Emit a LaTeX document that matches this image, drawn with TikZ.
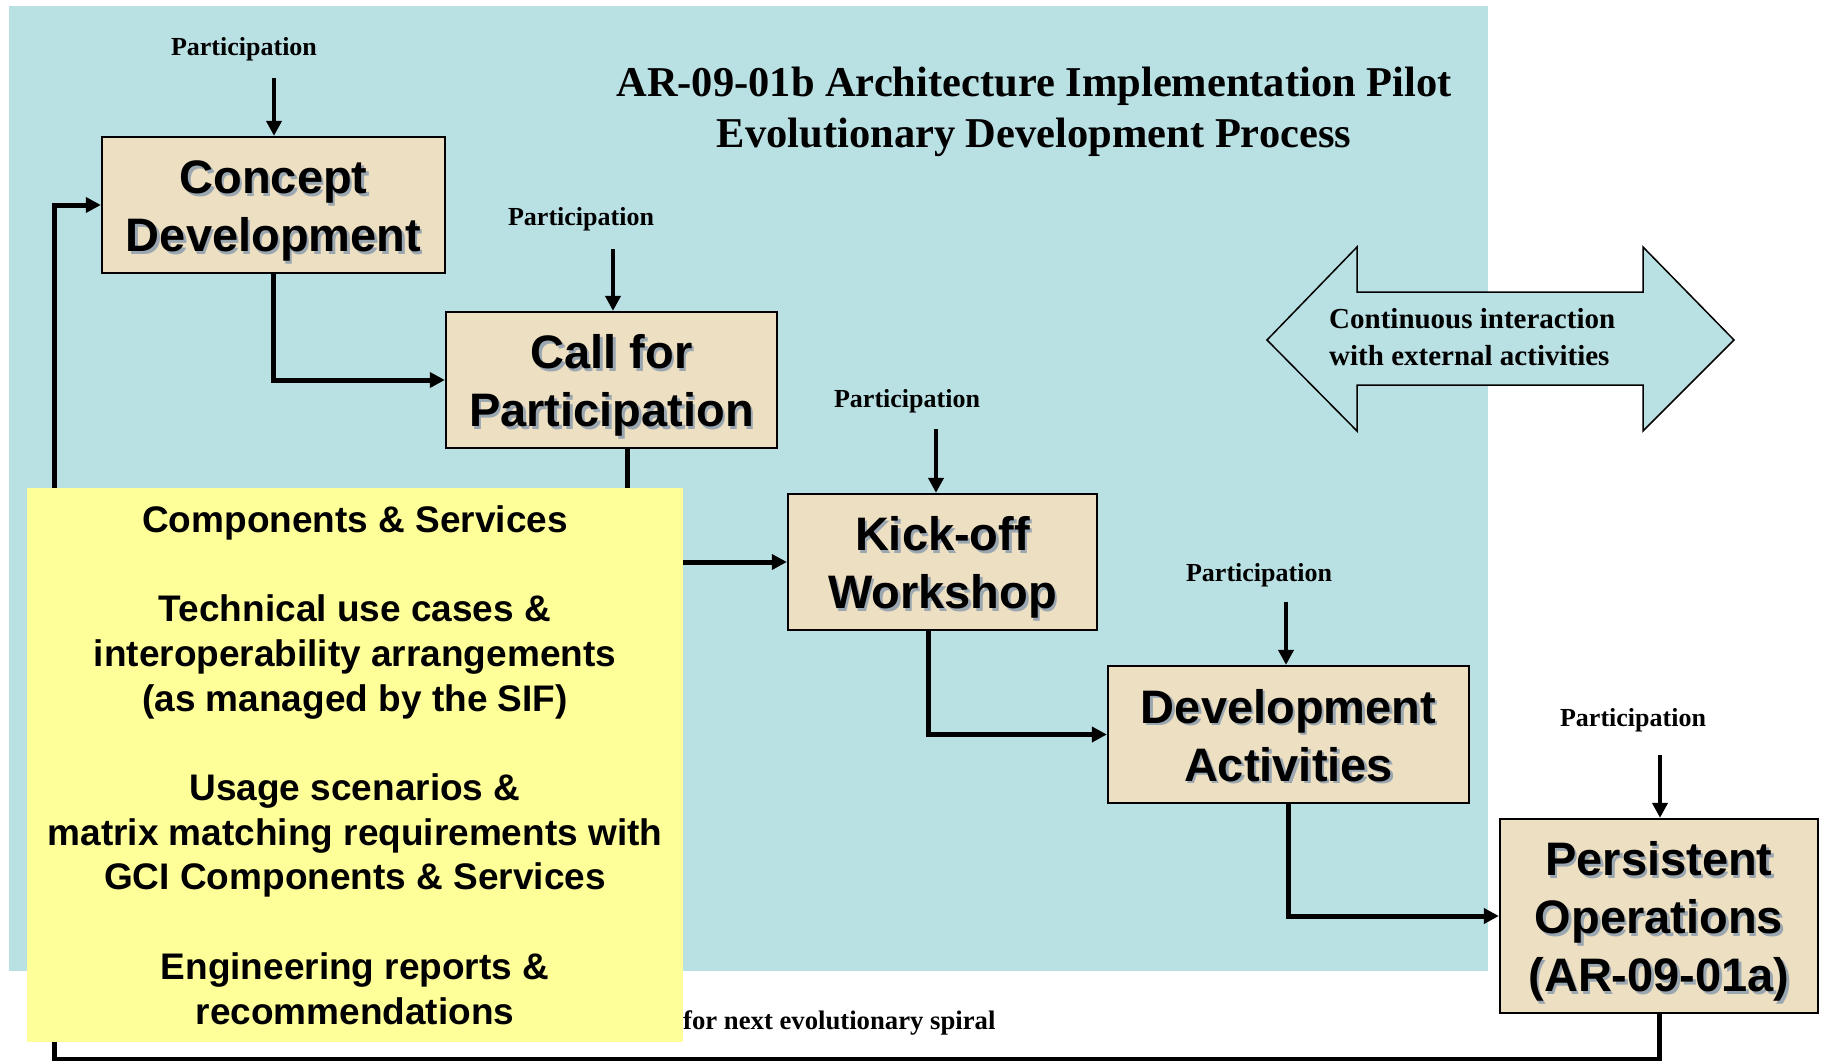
\documentclass[tikz,border=0pt]{standalone}
\usepackage{fontspec}
\setmainfont{Liberation Serif}
\newfontfamily\boxfont{Liberation Sans}
\usetikzlibrary{arrows.meta,calc}
\definecolor{bgblue}{HTML}{B9E0E3}
\definecolor{parch}{HTML}{EDDFC2}
\definecolor{pale}{HTML}{FFFF99}
\definecolor{shade}{HTML}{9AA6B0}
\newcommand\shtxt[1]{\begin{tabular}{@{}c@{}}#1\end{tabular}}
\newcommand\shadowed[1]{\raisebox{-6pt}[\height][\depth]{\makebox[0pt][l]{\raisebox{-2.5pt}[0pt][0pt]{\hspace{2.5pt}\color{shade}\shtxt{#1}}}\shtxt{#1}}}
\begin{document}
\begin{tikzpicture}[x=1pt,y=1pt,
  stepbox/.style={draw=black, line width=2.3pt, fill=parch, inner sep=0pt,
     font=\boxfont\bfseries\fontsize{47}{58}\selectfont},
  partlabel/.style={font=\bfseries\fontsize{26}{30}\selectfont, inner sep=0pt},
  conn/.style={line width=5pt, -{Triangle[length=15pt,width=15pt]}},
  partarrow/.style={line width=4.5pt, -{Triangle[length=15pt,width=15pt]}},
  notebox/.style={fill=pale, inner sep=0pt, align=center,
     font=\boxfont\bfseries\fontsize{37}{44.7}\selectfont}]
\useasboundingbox (0,0) rectangle (1830,-1060);
\fill[white] (0,0) rectangle (1830,-1060);
\fill[bgblue] (9,-6) rectangle (1488,-971);

% title
\node[font=\bfseries\fontsize{42.5}{51}\selectfont, align=center, inner sep=0pt] (title) at (1034,-112)
  {AR-09-01b Architecture Implementation Pilot\\Evolutionary Development Process};

% double arrow
\draw[fill=bgblue, line width=1.5pt, line join=miter]
  (1267,-340) -- (1357,-247) -- (1357,-292) -- (1643,-292) -- (1643,-247) -- (1734,-340)
  -- (1643,-431) -- (1643,-385) -- (1357,-385) -- (1357,-431) -- cycle;
\node[anchor=west, align=left, inner sep=0pt, font=\bfseries\fontsize{29}{37}\selectfont] (ext) at (1329,-337)
  {Continuous interaction\\with external activities};

% process boxes
\node[stepbox, minimum width=343, minimum height=136] (cd) at (273.5,-205) {\shadowed{Concept\\Development}};
\node[stepbox, minimum width=331, minimum height=136] (cfp) at (611.5,-380) {\shadowed{Call for\\Participation}};
\node[stepbox, minimum width=309, minimum height=136] (ko) at (942.5,-562) {\shadowed{Kick-off\\Workshop}};
\node[stepbox, minimum width=361, minimum height=137] (da) at (1288.5,-734.5) {\shadowed{Development\\Activities}};
\node[stepbox, minimum width=318, minimum height=194] (po) at (1659,-916) {\shadowed{Persistent\\Operations\\(AR-09-01a)}};

% participation labels and arrows
\node[partlabel] (p1) at (244,-49.5) {Participation};
\node[partlabel] (p2) at (581,-219.5) {Participation};
\node[partlabel] (p3) at (907,-401.5) {Participation};
\node[partlabel] (p4) at (1259,-575.5) {Participation};
\node[partlabel] (p5) at (1633,-720.5) {Participation};
\coordinate (p1a) at (274,-78);
\coordinate (p2a) at (613,-249);
\coordinate (p3a) at (936,-429);
\coordinate (p4a) at (1286,-602);
\coordinate (p5a) at (1660,-755);
\draw[partarrow] (p1a) -- (p1a |- cd.north);
\draw[partarrow] (p2a) -- (p2a |- cfp.north);
\draw[partarrow] (p3a) -- (p3a |- ko.north);
\draw[partarrow] (p4a) -- (p4a |- da.north);
\draw[partarrow] (p5a) -- (p5a |- po.north);

% flow connectors
\draw[conn] (cd.south) |- (cfp.west);
\draw[conn] ($(cfp.south)+(15.5,0)$) |- (ko.west);
\draw[conn] ($(ko.south)+(-14.5,0)$) |- (da.west);
\draw[conn] (da.south) |- (po.west);
\coordinate (lb) at (54,-1059);
\draw[conn] (po.south) |- (lb) |- (cd.west);

\node[anchor=west, inner sep=0pt, font=\bfseries\fontsize{26.7}{30}\selectfont] (spiral) at (683,-1023) {for next evolutionary spiral};

% yellow note
\node[notebox, minimum width=656, minimum height=554] (note) at (355,-765)
  {Components \& Services\\[44.7pt]
   Technical use cases \&\\interoperability arrangements\\(as managed by the SIF)\\[44.7pt]
   Usage scenarios \&\\matrix matching requirements with\\GCI Components \& Services\\[44.7pt]
   Engineering reports \&\\recommendations};
\end{tikzpicture}
\end{document}
